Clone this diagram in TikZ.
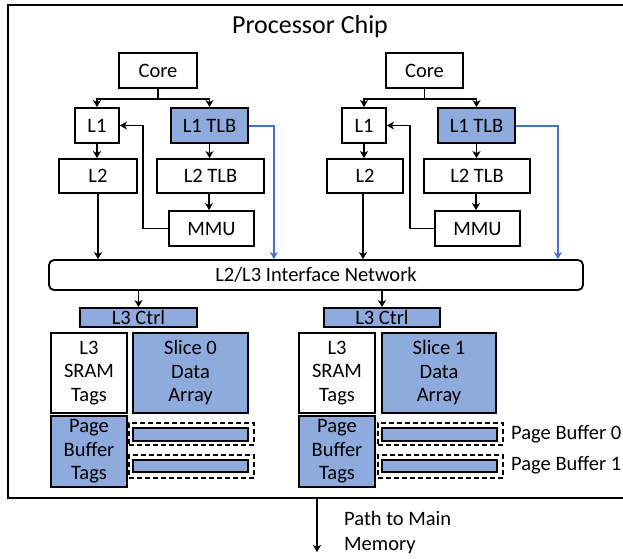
\documentclass[tikz,border=0pt]{standalone}
\usepackage{fontspec}
\setmainfont{Carlito}
\usetikzlibrary{arrows.meta}
\definecolor{fillblue}{HTML}{8FAADC}
\definecolor{lineblue}{HTML}{4472C4}
\tikzset{
  box/.style={draw=black, line width=1.8pt, inner sep=0pt, align=center,
    font=\fontsize{20.5}{23.5}\selectfont},
  bluebox/.style={box, fill=fillblue},
  dbox/.style={draw=black, line width=1.5pt, dash pattern=on 5pt off 3pt, inner sep=0pt},
  arr/.style={line width=1.5pt, -{Stealth[length=7pt,width=8pt,inset=2pt]}},
  barr/.style={arr, draw=lineblue, line width=2pt},
  lbl/.style={inner sep=0pt, font=\fontsize{20.5}{24.5}\selectfont}
}
\begin{document}
\begin{tikzpicture}[x=1pt,y=-1pt]
\useasboundingbox (0,0) rectangle (623,558);
% chip outline
\draw[line width=1.8pt] (623,5) -- (8,5) -- (8,498) -- (623,498);
\node[lbl, font=\fontsize{26}{30}\selectfont] (title) at (310,27) {Processor Chip};

% left core cluster
\node[box, minimum width=78, minimum height=35] (coreL) at (158,70.5) {Core};
\node[box, minimum width=44, minimum height=35] (l1L) at (97,125.5) {L1};
\node[bluebox, minimum width=77, minimum height=35] (tlbL) at (209.5,125.5) {L1 TLB};
\node[box, minimum width=78, minimum height=34] (l2L) at (98,176) {L2};
\node[box, minimum width=107, minimum height=34] (l2tlbL) at (210.5,176) {L2 TLB};
\node[box, minimum width=85, minimum height=35] (mmuL) at (211.5,228.5) {MMU};

% right core cluster
\node[box, minimum width=77, minimum height=35] (coreR) at (424.5,70.5) {Core};
\node[box, minimum width=44, minimum height=35] (l1R) at (364,125.5) {L1};
\node[bluebox, minimum width=77, minimum height=35] (tlbR) at (476.5,125.5) {L1 TLB};
\node[box, minimum width=76, minimum height=34] (l2R) at (365,176) {L2};
\node[box, minimum width=106, minimum height=34] (l2tlbR) at (477,176) {L2 TLB};
\node[box, minimum width=85, minimum height=35] (mmuR) at (477.5,228.5) {MMU};

% interface network
\node[box, rounded corners=5pt, minimum width=534, minimum height=30] (net) at (316,275) {L2/L3 Interface Network};

% left L3 slice
\node[bluebox, minimum width=117, minimum height=19] (ctrlL) at (138.5,317.5) {L3 Ctrl};
\node[box, minimum width=76, minimum height=80] (sramL) at (89,373) {L3\\SRAM\\Tags};
\node[bluebox, minimum width=115, minimum height=80] (sliceL) at (190.5,373) {Slice 0\\Data\\Array};
\node[bluebox, minimum width=76, minimum height=71] (pbtL) at (89,451.5) {Page\\Buffer\\Tags};
\node[dbox, minimum width=125, minimum height=22] (dL0) at (191.5,434) {};
\node[dbox, minimum width=125, minimum height=23] (dL1) at (191.5,466.5) {};
\node[bluebox, minimum width=115, minimum height=13] (bL0) at (190.5,434.5) {};
\node[bluebox, minimum width=115, minimum height=12] (bL1) at (190.5,466) {};

% right L3 slice
\node[bluebox, minimum width=116, minimum height=19] (ctrlR) at (382,317.5) {L3 Ctrl};
\node[box, minimum width=76, minimum height=80] (sramR) at (337,373) {L3\\SRAM\\Tags};
\node[bluebox, minimum width=114, minimum height=80] (sliceR) at (439,373) {Slice 1\\Data\\Array};
\node[bluebox, minimum width=76, minimum height=71] (pbtR) at (337,451.5) {Page\\Buffer\\Tags};
\node[dbox, minimum width=125, minimum height=22] (dR0) at (440.5,434) {};
\node[dbox, minimum width=125, minimum height=23] (dR1) at (440.5,466.5) {};
\node[bluebox, minimum width=115, minimum height=13] (bR0) at (439.5,434.5) {};
\node[bluebox, minimum width=115, minimum height=12] (bR1) at (439.5,466) {};

\node[lbl, anchor=west] (pb0) at (511,434) {Page Buffer 0};
\node[lbl, anchor=west] (pb1) at (511,465) {Page Buffer 1};

% path to memory
\coordinate (memTop) at (317,498);
\coordinate (memBot) at (317,552);
\node[lbl, anchor=west, align=left] (memtxt) at (344,532.5) {Path to Main\\Memory};

% connectors left
\draw[arr] (coreL.south) -- ++(0,10) -| (l1L.north);
\draw[arr] (coreL.south) -- ++(0,10) -| (tlbL.north);
\draw[arr] (l1L.south) -- (l1L.south |- l2L.north);
\draw[arr] (tlbL.south) -- (tlbL.south |- l2tlbL.north);
\draw[arr] ([xshift=-1.5pt]l2tlbL.south) -- ([xshift=-1.5pt]l2tlbL.south |- mmuL.north);
\draw[arr] (mmuL.west) -- ++(-25,0) |- (l1L.east);
\draw[arr] (l2L.south) -- (l2L.south |- net.north);
\draw[barr] (tlbL.east) -- ++(25,0) coordinate (bcL) -- (bcL |- net.north);

% connectors right
\draw[arr] (coreR.south) -- ++(0,10) -| (l1R.north);
\draw[arr] (coreR.south) -- ++(0,10) -| (tlbR.north);
\draw[arr] (l1R.south) -- (l1R.south |- l2R.north);
\draw[arr] (tlbR.south) -- (tlbR.south |- l2tlbR.north);
\draw[arr] ([xshift=-1pt]l2tlbR.south) -- ([xshift=-1pt]l2tlbR.south |- mmuR.north);
\draw[arr] (mmuR.west) -- ++(-24,0) |- (l1R.east);
\draw[arr] ([xshift=-2pt]l2R.south) -- ([xshift=-2pt]l2R.south |- net.north);
\draw[barr] (tlbR.east) -- ++(42,0) coordinate (bcR) -- (bcR |- net.north);

% network to L3 ctrl
\draw[arr] (net.south -| ctrlL.north) -- (ctrlL.north);
\draw[arr] (net.south -| ctrlR.north) -- (ctrlR.north);

% to main memory
\draw[arr, line width=1.8pt] (memTop) -- (memBot);
\end{tikzpicture}
\end{document}
